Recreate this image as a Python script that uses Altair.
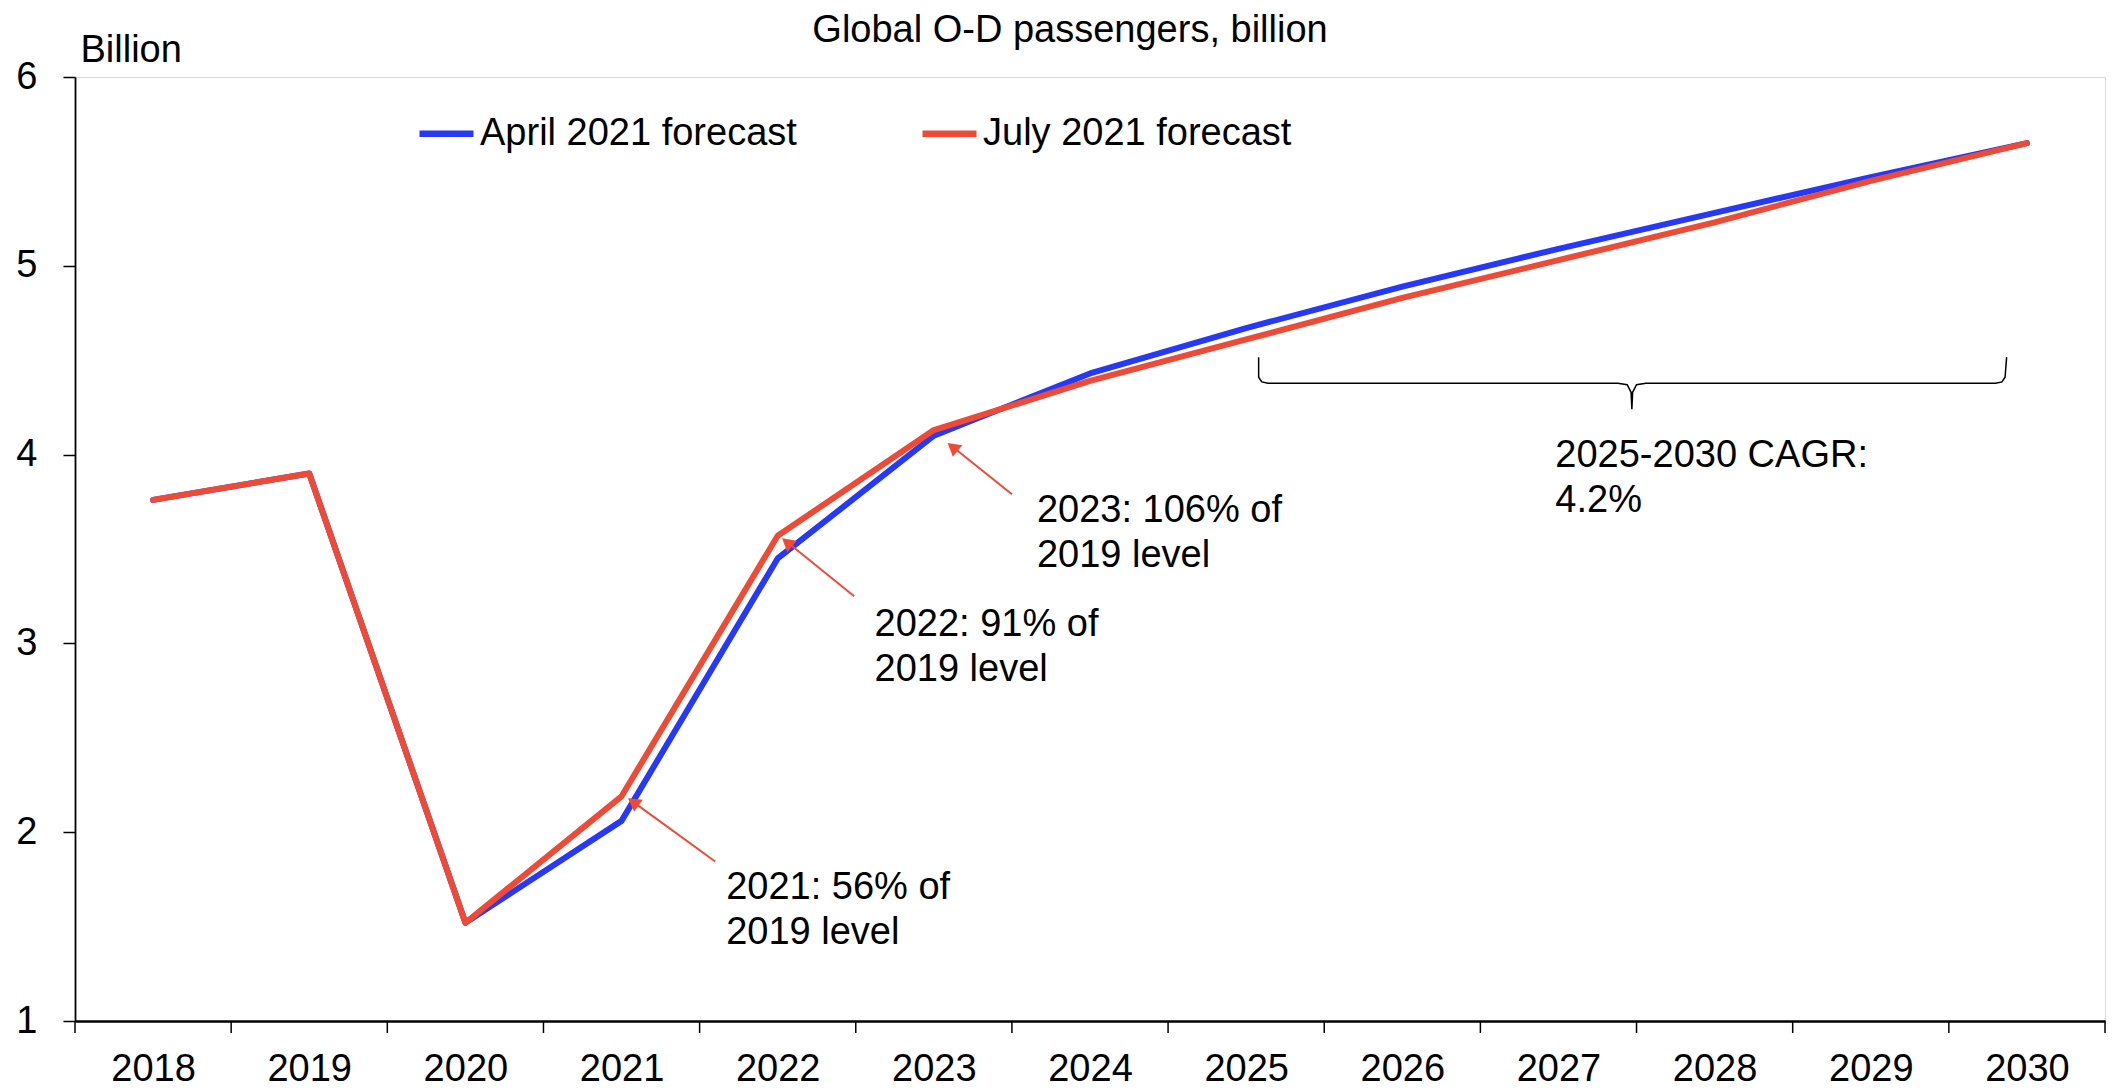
import altair as alt
import pandas as pd

FONT = "Liberation Sans"
BLUE = "#2638F8"
RED = "#EF4A36"

years = list(range(2018, 2031))
april = [3.76, 3.90, 1.52, 2.06, 3.45, 4.10, 4.43, 4.67, 4.89, 5.09, 5.28, 5.47, 5.65]
july = [3.76, 3.90, 1.52, 2.19, 3.57, 4.13, 4.39, 4.61, 4.83, 5.03, 5.23, 5.45, 5.65]
series_names = ["April 2021 forecast", "July 2021 forecast"]

# annotation texts and anchor positions (data coordinates)
ann_text = ["2021: 56% of\n2019 level", "2022: 91% of\n2019 level",
            "2023: 106% of\n2019 level", "2025-2030 CAGR:\n4.2%"]
ann_x = [2021.67, 2022.62, 2023.66, 2026.98]
ann_y = [1.644, 3.038, 3.642, 3.933]

# arrows
tail_x = [2021.60, 2022.49, 2023.50]
tail_y = [1.845, 3.25, 3.79]
tip_x = [2021.05, 2022.04, 2023.10]
tip_y = [2.175, 3.55, 4.055]
head_x = [2021.075, 2022.06, 2023.12]
head_y = [2.16, 3.535, 4.04]
head_angle = [306, 309, 309]

# brace over 2025-2030
brace_x = [2025.08, 2025.08, 2025.10, 2025.14, 2027.38, 2027.44, 2027.465, 2027.47,
           2027.475, 2027.50, 2027.56, 2029.80, 2029.84, 2029.86, 2029.87]
brace_y = [4.516, 4.41, 4.385, 4.378, 4.378, 4.37, 4.33, 4.24,
           4.33, 4.37, 4.378, 4.378, 4.385, 4.41, 4.516]

# x-axis category boundaries (tick marks sit between the year labels)
x_boundaries = [2017.5 + i for i in range(14)]
y_tick_values = [1, 2, 3, 4, 5, 6]

lines_df = pd.DataFrame({
    "year": years * 2,
    "value": april + july,
    "series": [series_names[0]] * len(years) + [series_names[1]] * len(years),
})
ann_df = pd.DataFrame({"x": ann_x, "y": ann_y, "text": ann_text})
arrow_df = pd.DataFrame({"tail_x": tail_x, "tail_y": tail_y, "tip_x": tip_x, "tip_y": tip_y,
                         "head_x": head_x, "head_y": head_y, "angle": head_angle})
brace_df = pd.DataFrame({"x": brace_x, "y": brace_y, "order": list(range(len(brace_x)))})
tick_df = pd.DataFrame({"b": x_boundaries})

PLOT_W, PLOT_H = 2030, 944

xscale = alt.Scale(domain=[2017.5, 2030.5], nice=False, zero=False)
yscale = alt.Scale(domain=[1, 6], nice=False, zero=False)

xaxis = alt.Axis(
    values=years, format="d", title=None, grid=False, ticks=False, tickSize=0,
    labelOverlap=False, labelFlush=False, labelBound=False,
    domainColor="black", domainWidth=2.7,
    labelFont=FONT, labelFontSize=38, labelColor="black", labelPadding=29,
)
yaxis = alt.Axis(
    values=y_tick_values, title="Billion", grid=False,
    titleAngle=0, titleAlign="left", titleBaseline="alphabetic", titleX=5, titleY=-15.6,
    titleFont=FONT, titleFontSize=38, titleFontWeight="normal", titleColor="black",
    domainColor="black", domainWidth=1.8, tickColor="black", tickWidth=1.5, tickSize=12,
    labelFont=FONT, labelFontSize=38, labelColor="black", labelPadding=26,
)


def X(field):
    return alt.X(field, type="quantitative", scale=xscale, axis=xaxis)


def Y(field):
    return alt.Y(field, type="quantitative", scale=yscale, axis=yaxis)


color = alt.Color(
    "series:N",
    scale=alt.Scale(domain=series_names, range=[BLUE, RED]),
    legend=alt.Legend(
        title=None, orient="none", legendX=341, legendY=26, direction="horizontal",
        columns=2, columnPadding=112, symbolType="stroke", symbolSize=2916,
        symbolStrokeWidth=6.5, labelFont=FONT, labelFontSize=38, labelColor="black",
        labelOffset=3, labelLimit=800, padding=0,
    ),
)

base = alt.Chart(lines_df)
blue = base.transform_filter(alt.datum.series == series_names[0]).mark_line(
    strokeWidth=6, strokeCap="round", strokeJoin="round"
).encode(x=X("year"), y=Y("value"), color=color)
red = base.transform_filter(alt.datum.series == series_names[1]).mark_line(
    strokeWidth=6, strokeCap="round", strokeJoin="round"
).encode(x=X("year"), y=Y("value"), color=color)

xticks = alt.Chart(tick_df).mark_rule(color="black", strokeWidth=1.5).encode(
    x=X("b"), y=alt.value(PLOT_H), y2=alt.value(PLOT_H + 12)
)
brace = alt.Chart(brace_df).mark_line(color="black", strokeWidth=1.5).encode(
    x=X("x"), y=Y("y"), order="order:Q"
)
rules = alt.Chart(arrow_df).mark_rule(color=RED, strokeWidth=2).encode(
    x=X("tail_x"), y=Y("tail_y"), x2="tip_x", y2="tip_y"
)
heads = alt.Chart(arrow_df).mark_point(
    shape="triangle-up", filled=True, color=RED, size=220, opacity=1, strokeWidth=0
).encode(x=X("head_x"), y=Y("head_y"), angle=alt.Angle("angle:Q", scale=None))
texts = alt.Chart(ann_df).mark_text(
    align="left", baseline="alphabetic", font=FONT, fontSize=38, lineHeight=45,
    lineBreak="\n", color="black"
).encode(x=X("x"), y=Y("y"), text="text:N")

chart = alt.layer(blue, red, xticks, brace, rules, heads, texts).properties(
    width=PLOT_W, height=PLOT_H,
    title=alt.TitleParams(
        text="Global O-D passengers, billion", font=FONT, fontSize=38,
        fontWeight="normal", color="black", anchor="middle", dx=-20, dy=19, offset=0
    ),
    autosize=alt.AutoSizeParams(type="none"),
    padding={"left": 67, "top": 69, "right": 3, "bottom": 77},
).configure_view(stroke=None).configure(font=FONT)

chart.save("out.html", embed_options={"renderer": "svg", "actions": False})
